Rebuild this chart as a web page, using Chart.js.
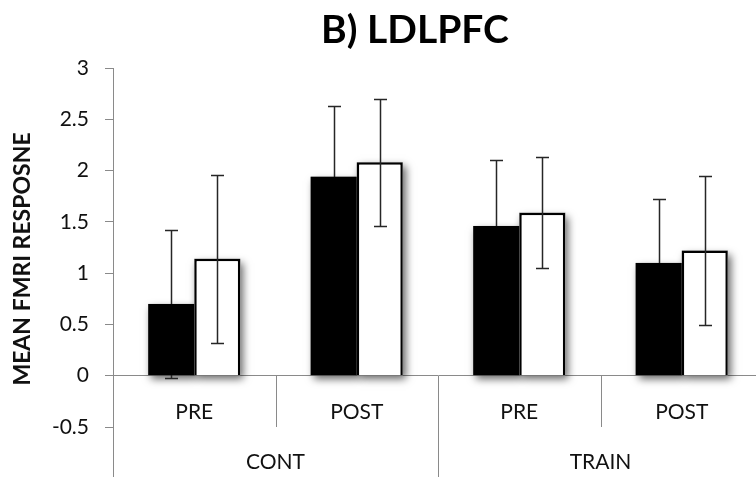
<!DOCTYPE html>
<html><head><meta charset="utf-8">
<script src="https://cdn.jsdelivr.net/npm/chart.js@4.4.0/dist/chart.umd.min.js"></script>
<style>
html,body{margin:0;padding:0;background:#fff;overflow:hidden;width:756px;height:477px}
#wrap{width:764px;height:477px;position:relative}
</style>
</head><body>
<div id="wrap"><canvas id="c"></canvas></div>
<script>
const chartTitle = "B) LDLPFC";
const yAxisTitle = "MEAN FMRI RESPOSNE";
const sessions = ["PRE", "POST", "PRE", "POST"];
const groups = ["CONT", "TRAIN"];
const blackValues = [0.70, 1.94, 1.46, 1.10];
const whiteValues = [1.14, 2.08, 1.59, 1.22];
const blackErrors = [0.72, 0.69, 0.64, 0.62];
const whiteErrors = [0.82, 0.62, 0.54, 0.73];
const yMin = -0.5, yMax = 3, yStep = 0.5;

const FONT = "Lato, 'Open Sans', sans-serif";
const AXIS_GREY = "#8a8a8a";
const ERR_COLOR = "#262626";

function drawErrorBars(chart, dsIndex, errs) {
  const ctx = chart.ctx;
  const ys = chart.scales.y;
  const ds = chart.data.datasets[dsIndex];
  const meta = chart.getDatasetMeta(dsIndex);
  ctx.save();
  ctx.strokeStyle = ERR_COLOR;
  ctx.lineWidth = 1.5;
  meta.data.forEach((bar, j) => {
    const v = ds.data[j], e = errs[j];
    const yt = Math.round(ys.getPixelForValue(v + e)) + 0.5;
    const yb = Math.round(ys.getPixelForValue(v - e)) + 0.5;
    const x = Math.round(bar.x) + 0.5;
    ctx.beginPath();
    ctx.moveTo(x, yt); ctx.lineTo(x, yb);
    ctx.moveTo(x - 6.5, yt); ctx.lineTo(x + 6.5, yt);
    ctx.moveTo(x - 6.5, yb); ctx.lineTo(x + 6.5, yb);
    ctx.stroke();
  });
  ctx.restore();
}

const deco = {
  id: 'deco',
  beforeDatasetsDraw(chart) {
    const ctx = chart.ctx;
    chart.data.datasets.forEach((ds, i) => {
      chart.getDatasetMeta(i).data.forEach((bar) => {
        const p = bar.getProps(['x', 'y', 'base', 'width'], true);
        const rx = p.x - p.width / 2, ry = Math.min(p.y, p.base), rh = Math.abs(p.base - p.y);
        ctx.save();
        ctx.shadowColor = 'rgba(0,0,0,0.6)';
        ctx.shadowBlur = 8;
        ctx.shadowOffsetX = 3;
        ctx.shadowOffsetY = 4;
        ctx.fillStyle = '#555';
        ctx.fillRect(rx, ry, p.width, rh);
        ctx.restore();
        ctx.save();
        ctx.fillStyle = '#fff';
        ctx.fillRect(rx, ry, p.width, rh);
        ctx.restore();
      });
    });
    drawErrorBars(chart, 0, blackErrors);
  },
  afterDatasetsDraw(chart) {
    drawErrorBars(chart, 1, whiteErrors);
  },
  afterDraw(chart) {
    const ctx = chart.ctx;
    const xs = chart.scales.x, ys = chart.scales.y;
    const y0 = Math.round(ys.getPixelForValue(0));
    const step = xs.getPixelForValue(1) - xs.getPixelForValue(0);
    const bottom = chart.height;
    ctx.save();
    ctx.strokeStyle = AXIS_GREY;
    ctx.lineWidth = 1;
    for (let j = 0; j <= sessions.length; j++) {
      const x = Math.round(xs.getPixelForValue(j) - step / 2) + 0.5;
      ctx.beginPath();
      ctx.moveTo(x, y0);
      ctx.lineTo(x, j % 2 === 0 ? bottom : chart.chartArea.bottom);
      ctx.stroke();
    }
    ctx.fillStyle = '#111';
    ctx.font = "21px " + FONT;
    ctx.textAlign = 'center';
    ctx.textBaseline = 'middle';
    groups.forEach((g, k) => {
      const cx = (xs.getPixelForValue(2 * k) + xs.getPixelForValue(2 * k + 1)) / 2;
      ctx.fillText(g, cx, 462);
    });
    ctx.font = "bold 39px " + FONT;
    ctx.fillStyle = '#000';
    ctx.fillText(chartTitle, 415, 30);
    // y-axis title
    ctx.translate(23, 259);
    ctx.rotate(-Math.PI / 2);
    ctx.font = "bold 23px " + FONT;
    ctx.fillStyle = '#111';
    ctx.fillText(yAxisTitle, 0, 0);
    ctx.restore();
  }
};

new Chart(document.getElementById('c'), {
  type: 'bar',
  data: {
    labels: sessions,
    datasets: [
      { label: 'black', data: blackValues, backgroundColor: '#000', borderColor: '#000', borderWidth: 0 },
      { label: 'white', data: whiteValues, backgroundColor: '#fff', borderColor: '#000', borderWidth: 2.5 }
    ]
  },
  options: {
    responsive: true,
    maintainAspectRatio: false,
    animation: false,
    layout: { padding: { top: 68, bottom: 50, left: 0, right: 1 } },
    datasets: { bar: { categoryPercentage: 0.567, barPercentage: 1.0 } },
    plugins: { legend: { display: false }, tooltip: { enabled: false }, title: { display: false } },
    scales: {
      x: {
        position: { y: 0 },
        grid: { display: false },
        border: { display: true, color: AXIS_GREY, width: 1 },
        ticks: { color: '#111', font: { family: FONT, size: 21 }, padding: 16 }
      },
      y: {
        min: yMin, max: yMax,
        afterFit(scale) { scale.width = 113; },
        ticks: { stepSize: yStep, color: '#111', font: { family: FONT, size: 21 }, padding: 16,
                 callback: (v) => String(v) },
        grid: { display: true, drawOnChartArea: false, drawTicks: true, tickLength: 8, tickColor: AXIS_GREY },
        border: { display: true, color: AXIS_GREY, width: 1 },
        title: { display: false, text: yAxisTitle }
      }
    }
  },
  plugins: [deco]
});
</script>
</body></html>
